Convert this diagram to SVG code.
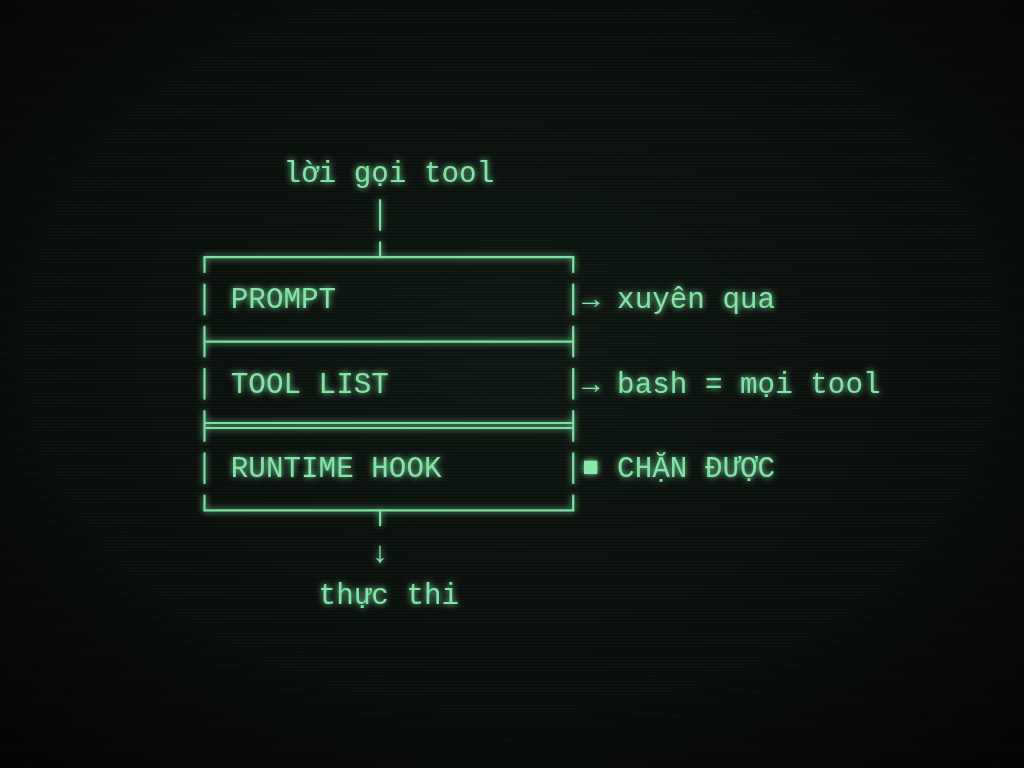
<svg xmlns="http://www.w3.org/2000/svg" width="1024" height="768" viewBox="0 0 1024 768">
  <defs>
    <radialGradient id="bg" cx="0.5" cy="0.45" r="0.75">
      <stop offset="0" stop-color="#111a14"/>
      <stop offset="0.6" stop-color="#0b110d"/>
      <stop offset="1" stop-color="#040605"/>
    </radialGradient>
    <pattern id="scan" width="8" height="3" patternUnits="userSpaceOnUse">
      <rect x="0" y="2" width="8" height="1" fill="#000" fill-opacity="0.28"/>
    </pattern>
    <filter id="glow" x="-10%" y="-10%" width="120%" height="120%">
      <feGaussianBlur in="SourceGraphic" stdDeviation="3" result="b"/>
      <feMerge>
        <feMergeNode in="b"/>
        <feMergeNode in="SourceGraphic"/>
      </feMerge>
    </filter>
    <style>
      .t { font-family: "Liberation Mono", "DejaVu Sans Mono", monospace; font-size: 29.27px; fill: #80e6a6; }
      .ln { stroke: #78e0a0; stroke-width: 2.2; fill: none; stroke-linecap: butt; }
    </style>
  </defs>
  <rect width="1024" height="768" fill="url(#bg)"/>
  <rect width="1024" height="768" fill="url(#scan)"/>

  <g filter="url(#glow)">
    <g id="input">
      <text class="t" x="283.5" y="181.8">lời gọi tool</text>
    </g>

    <g id="connectors">
      <line class="ln" x1="380.1" y1="199.3" x2="380.1" y2="230.7"/>
      <line class="ln" x1="380.1" y1="241.5" x2="380.1" y2="257.2"/>
      <line class="ln" x1="380.1" y1="510.4" x2="380.1" y2="526.1"/>
      <text class="t" x="371.3" y="561.6">↓</text>
    </g>

    <g id="frame">
      <line class="ln" x1="203.4" y1="257.2" x2="574.3" y2="257.2"/>
      <line class="ln" x1="204.5" y1="257.2" x2="204.5" y2="272.9"/>
      <line class="ln" x1="573.2" y1="257.2" x2="573.2" y2="272.9"/>
      <line class="ln" x1="204.5" y1="325.9" x2="204.5" y2="357.3"/>
      <line class="ln" x1="573.2" y1="325.9" x2="573.2" y2="357.3"/>
      <line class="ln" x1="204.5" y1="341.6" x2="573.2" y2="341.6"/>
      <line class="ln" x1="204.5" y1="410.3" x2="204.5" y2="441.7"/>
      <line class="ln" x1="573.2" y1="410.3" x2="573.2" y2="441.7"/>
      <line class="ln" x1="204.5" y1="423" x2="573.2" y2="423"/>
      <line class="ln" x1="204.5" y1="428" x2="573.2" y2="428"/>
      <line class="ln" x1="204.5" y1="494.7" x2="204.5" y2="510.4"/>
      <line class="ln" x1="573.2" y1="494.7" x2="573.2" y2="510.4"/>
      <line class="ln" x1="203.4" y1="510.4" x2="574.3" y2="510.4"/>
    </g>

    <g id="layer-prompt">
      <line class="ln" x1="204.5" y1="283.7" x2="204.5" y2="315.1"/>
      <line class="ln" x1="573.2" y1="283.7" x2="573.2" y2="315.1"/>
      <text class="t" x="230.8" y="308.4">PROMPT</text>
      <text class="t" x="582" y="308.4">→ xuyên qua</text>
    </g>

    <g id="layer-toollist">
      <line class="ln" x1="204.5" y1="368.1" x2="204.5" y2="399.5"/>
      <line class="ln" x1="573.2" y1="368.1" x2="573.2" y2="399.5"/>
      <text class="t" x="230.8" y="392.8">TOOL LIST</text>
      <text class="t" x="582" y="392.8">→ bash = mọi tool</text>
    </g>

    <g id="layer-runtime">
      <line class="ln" x1="204.5" y1="452.5" x2="204.5" y2="483.9"/>
      <line class="ln" x1="573.2" y1="452.5" x2="573.2" y2="483.9"/>
      <text class="t" x="230.8" y="477.2">RUNTIME HOOK</text>
      <rect x="584" y="460.7" width="13.3" height="13.3" fill="#86eaa8"/>
      <text class="t" x="617.1" y="477.2">CHẶN ĐƯỢC</text>
    </g>

    <g id="output">
      <text class="t" x="318.6" y="603.8">thực thi</text>
    </g>
  </g>
</svg>
